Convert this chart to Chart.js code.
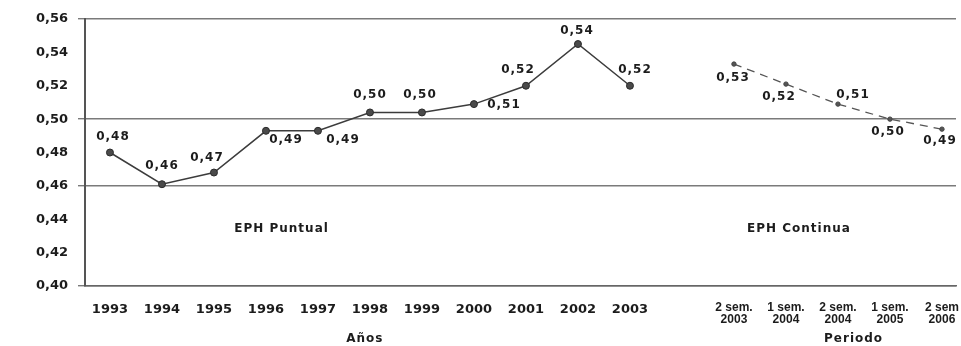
<!DOCTYPE html>
<html>
<head>
<meta charset="utf-8">
<script src="https://cdn.jsdelivr.net/npm/chart.js@4/dist/chart.umd.min.js"></script>
<style>
  html, body { margin: 0; padding: 0; background: #fff; overflow: hidden; }
  #wrap { width: 961px; height: 346px; position: relative; }
</style>
</head>
<body>
<div id="wrap"><canvas id="c" width="961" height="346"></canvas></div>
<script>
// ---- Data ----
const years = ['1993','1994','1995','1996','1997','1998','1999','2000','2001','2002','2003'];
const puntualValues = [0.480, 0.461, 0.468, 0.493, 0.493, 0.504, 0.504, 0.509, 0.520, 0.545, 0.520];
const puntualLabels = ['0,48','0,46','0,47','0,49','0,49','0,50','0,50','0,51','0,52','0,54','0,52'];

const semesters = [['2 sem.','2003'], ['1 sem.','2004'], ['2 sem.','2004'], ['1 sem.','2005'], ['2 sem','2006']];
const continuaValues = [0.533, 0.521, 0.509, 0.500, 0.494];
const continuaLabels = ['0,53','0,52','0,51','0,50','0,49'];

const yTicks = [0.40, 0.42, 0.44, 0.46, 0.48, 0.50, 0.52, 0.54, 0.56];
const gridValues = [0.46, 0.50, 0.56, 0.40];

const sectionTitles = ['EPH Puntual', 'EPH Continua'];
const axisTitles = ['Años', 'Periodo'];

// ---- Build positions (category index along a linear axis; one empty slot between surveys) ----
const gap = 1;
const puntualX = years.map((_, i) => i);
const continuaX = semesters.map((_, i) => years.length + gap + i);
const tickLabelMap = {};
years.forEach((y, i) => tickLabelMap[puntualX[i]] = y);
semesters.forEach((s, i) => tickLabelMap[continuaX[i]] = s);
const tickPositions = puntualX.concat(continuaX);

// ---- Style config ----
const TXT = '#1c1c1c';
const LINE = '#3c3c3c';
const labelOffsets = [
  [[3,-16],[0,-18],[-7,-15],[20,9],[25,9],[0,-18],[-2,-18],[30,1],[-8,-16],[-1,-13],[5,-16]],
  [[-1,14],[-7,13],[15,-9],[-2,13],[-2,12]]
];
const dsLabels = [puntualLabels, continuaLabels];

const labelPlugin = {
  id: 'pointLabels',
  afterDatasetsDraw(chart) {
    const ctx = chart.ctx;
    ctx.save();
    ctx.font = 'bold 12px "DejaVu Sans"';
    ctx.fillStyle = TXT;
    ctx.textAlign = 'center';
    ctx.textBaseline = 'middle';
    try { ctx.letterSpacing = '1px'; } catch (e) {}
    chart.data.datasets.forEach((ds, di) => {
      const meta = chart.getDatasetMeta(di);
      meta.data.forEach((pt, i) => {
        const off = labelOffsets[di][i];
        ctx.fillText(dsLabels[di][i], pt.x + off[0], pt.y + off[1]);
      });
    });
    // section titles placed in data space
    const xs = chart.scales.x, ys = chart.scales.y;
    const yPos = ys.getPixelForValue(0.434);
    const c1 = (puntualX[0] + puntualX[puntualX.length - 1]) / 2 - 1.7;
    const c2 = (continuaX[0] + continuaX[continuaX.length - 1]) / 2 - 0.75;
    ctx.font = 'bold 12px "DejaVu Sans"';
    ctx.fillText(sectionTitles[0], xs.getPixelForValue(c1), yPos);
    ctx.fillText(sectionTitles[1], xs.getPixelForValue(c2), yPos);
    // axis titles
    ctx.font = 'bold 12px "DejaVu Sans"';
    const a1 = (puntualX[0] + puntualX[puntualX.length - 1]) / 2 - 0.1;
    const a2 = (continuaX[0] + continuaX[continuaX.length - 1]) / 2 + 0.3;
    ctx.fillText(axisTitles[0], xs.getPixelForValue(a1), 339);
    ctx.fillText(axisTitles[1], xs.getPixelForValue(a2), 339);
    ctx.restore();
  }
};

const isGrid = v => gridValues.some(g => Math.abs(g - v) < 1e-6);

new Chart(document.getElementById('c'), {
  type: 'line',
  data: {
    datasets: [
      {
        label: 'EPH Puntual',
        data: puntualValues.map((v, i) => ({ x: puntualX[i], y: v })),
        borderColor: LINE,
        borderWidth: 1.5,
        pointRadius: 3.5,
        pointBackgroundColor: '#4a4a4a',
        pointBorderColor: '#2a2a2a',
        pointBorderWidth: 1,
        tension: 0,
        fill: false
      },
      {
        label: 'EPH Continua',
        data: continuaValues.map((v, i) => ({ x: continuaX[i], y: v })),
        borderColor: '#555',
        borderWidth: 1.3,
        borderDash: [8, 6],
        pointRadius: 2.2,
        pointBackgroundColor: '#555',
        pointBorderColor: '#444',
        pointBorderWidth: 1,
        tension: 0,
        fill: false
      }
    ]
  },
  options: {
    responsive: false,
    animation: false,
    events: [],
    layout: { padding: { top: 19, right: 0, bottom: 0, left: 0 } },
    plugins: { legend: { display: false }, tooltip: { enabled: false } },
    scales: {
      x: {
        type: 'linear',
        min: -0.48,
        max: 16.27,
        grid: { display: false },
        border: { display: true, color: '#666', width: 1.5 },
        afterBuildTicks: (scale) => { scale.ticks = tickPositions.map(v => ({ value: v })); },
        afterFit: (scale) => { scale.height = 60; scale.paddingLeft = 0; scale.paddingRight = 0; },
        ticks: {
          autoSkip: false,
          maxRotation: 0,
          minRotation: 0,
          padding: 8,
          color: TXT,
          font: (ctx) => {
            const v = ctx.tick ? ctx.tick.value : 0;
            return v > years.length ? { family: 'Liberation Sans', weight: 'bold', size: 12, lineHeight: 1.0 }
                                    : { family: 'DejaVu Sans', weight: 'bold', size: 13 };
          },
          callback: (v) => tickLabelMap[v] !== undefined ? tickLabelMap[v] : ''
        }
      },
      y: {
        min: 0.40,
        max: 0.56,
        afterBuildTicks: (scale) => { scale.ticks = yTicks.map(v => ({ value: v })); },
        afterFit: (scale) => { scale.width = 85; },
        grid: {
          color: (ctx) => isGrid(ctx.tick.value) ? '#7a7a7a' : 'rgba(0,0,0,0)',
          tickColor: (ctx) => isGrid(ctx.tick.value) ? '#7a7a7a' : 'rgba(0,0,0,0)',
          lineWidth: 1.4,
          drawTicks: true,
          tickLength: 7
        },
        border: { display: true, color: '#555', width: 2 },
        ticks: {
          padding: 10,
          color: TXT,
          font: { family: 'DejaVu Sans', weight: 'bold', size: 13 },
          callback: (v) => v.toFixed(2).replace('.', ',')
        }
      }
    }
  },
  plugins: [labelPlugin]
});
</script>
</body>
</html>
